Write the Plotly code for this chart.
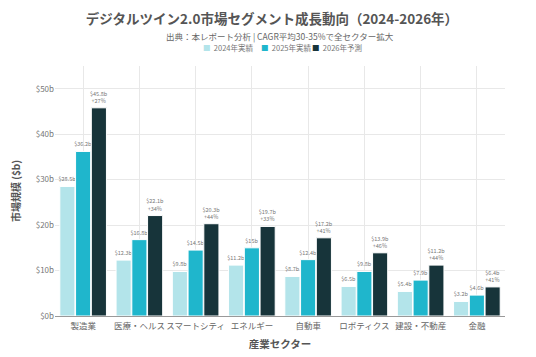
import plotly.graph_objects as go

sectors = ["製造業", "医療・ヘルス", "スマートシティ", "エネルギー", "自動車", "ロボティクス", "建設・不動産", "金融"]
v2024 = [28.5, 12.3, 9.8, 11.2, 8.7, 6.5, 5.4, 3.2]
v2025 = [36.2, 16.8, 14.5, 15.0, 12.4, 9.8, 7.9, 4.6]
v2026 = [45.8, 22.1, 20.3, 19.7, 17.2, 13.9, 11.2, 6.4]
growth = ["+27%", "+34%", "+44%", "+33%", "+41%", "+46%", "+44%", "+41%"]
series_names = ["2024年実績", "2025年実績", "2026年予測"]
colors = ["#b3e4ea", "#1fb6cc", "#17343a"]
yticks = [0, 10, 20, 30, 40, 50]

FONT = "Noto Sans CJK JP"

def fmt(v):
    s = f"{v:.1f}"
    if s.endswith(".0"):
        s = s[:-2]
    return f"${s}b"

fig = go.Figure()
for name, vals, col, i in zip(series_names, [v2024, v2025, v2026], colors, range(3)):
    if i == 2:
        texts = [f"{fmt(v)}<br>{g}" for v, g in zip(vals, growth)]
    else:
        texts = [fmt(v) for v in vals]
    fig.add_trace(go.Bar(
        name=name, x=sectors, y=vals, text=texts,
        textposition="outside", cliponaxis=False, constraintext="none",
        textfont=dict(size=5.5, color="#777", family=FONT),
        marker=dict(color=col, line=dict(color="white", width=1)),
        showlegend=False,
    ))

# compact legend built from annotations
legend_x = [0.324, 0.453, 0.567]
annotations = [dict(text="出典：本レポート分析 | CAGR平均30-35%で全セクター拡大",
                    xref="paper", yref="paper", x=0.5, y=1.116, xanchor="center", yanchor="middle",
                    showarrow=False, font=dict(size=8.5, color="#666", family=FONT))]
for name, col, lx in zip(series_names, colors, legend_x):
    annotations.append(dict(
        text=f"<span style='color:{col}'>■</span>  {name}",
        xref="paper", yref="paper", x=lx, y=1.072, xanchor="left", yanchor="middle",
        showarrow=False, font=dict(size=7.5, color="#777", family=FONT)))

fig.update_layout(
    width=528, height=349,
    margin=dict(l=47, r=31, t=58, b=41, autoexpand=False),
    paper_bgcolor="white", plot_bgcolor="white",
    font=dict(family=FONT, color="#666"),
    barmode="group", bargap=0.16, bargroupgap=0.04,
    title=dict(text="<b>デジタルツイン2.0市場セグメント成長動向（2024-2026年）</b>",
               x=0.5, xanchor="center", y=1 - 11/349, yanchor="middle",
               font=dict(size=13.5, color="#555", family=FONT)),
    annotations=annotations,
    showlegend=False,
)
fig.update_yaxes(range=[0, 55], tickvals=yticks, ticktext=[f"${t}b" for t in yticks],
                 showgrid=True, gridcolor="#e8e8e8", zeroline=False, automargin=False,
                 tickfont=dict(size=8, color="#777"),
                 title=dict(text="<b>市場規模 ($b)</b>", font=dict(size=10, color="#555"), standoff=14))
fig.update_xaxes(showgrid=True, gridcolor="#e8e8e8", showline=True, linecolor="#999", linewidth=1,
                 ticks="", tickangle=0, automargin=False, tickfont=dict(size=8.5, color="#666"),
                 ticklabelstandoff=2,
                 title=dict(text="<b>産業セクター</b>", font=dict(size=10.5, color="#555"), standoff=10))

fig.write_html("out.html")
